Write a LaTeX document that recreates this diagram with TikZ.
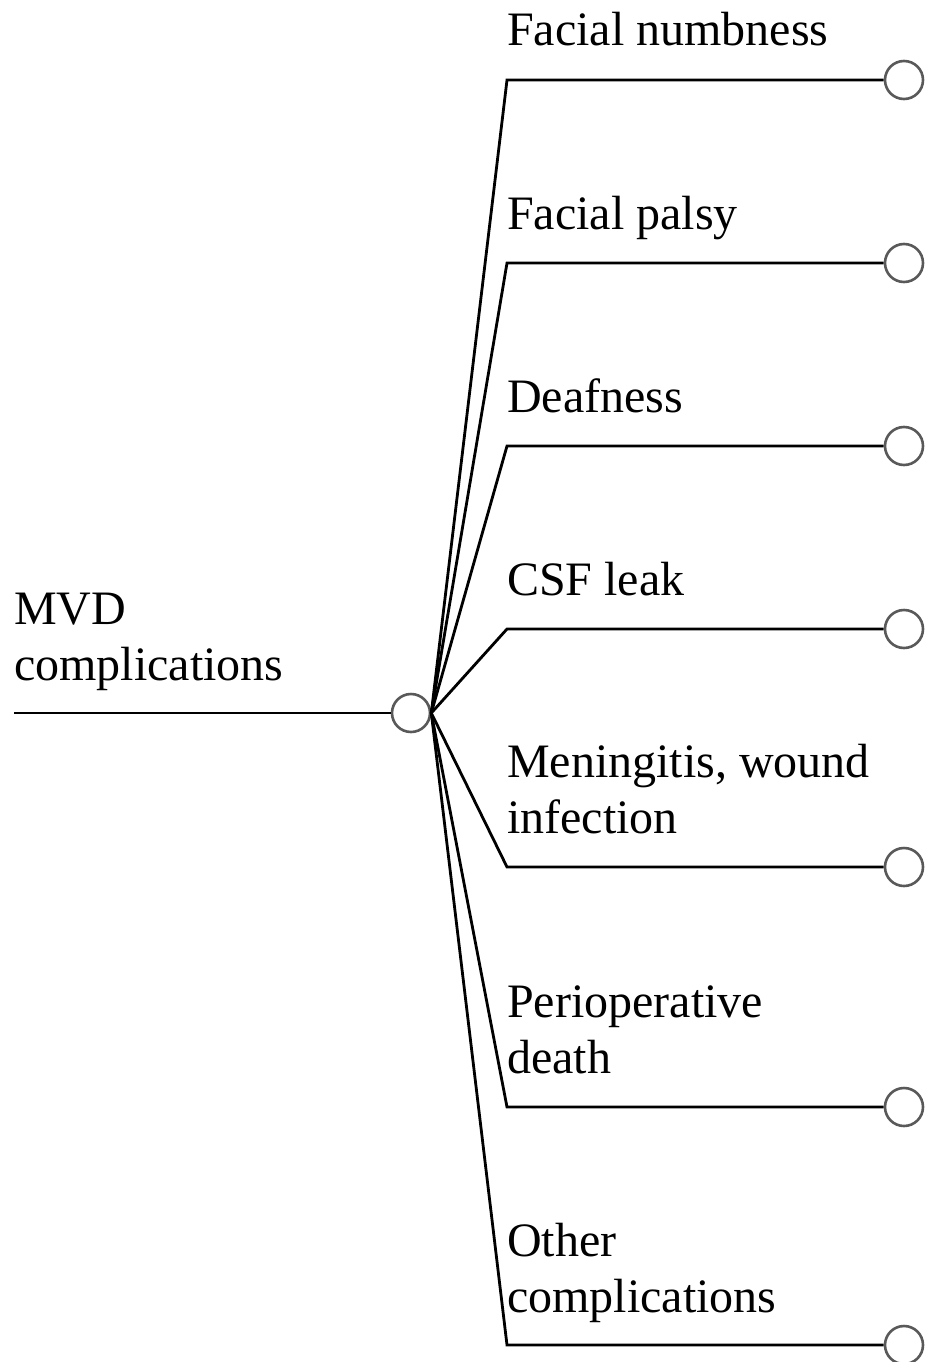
\documentclass[tikz,border=0pt]{standalone}
\usepackage{fontspec}
\setmainfont{Liberation Serif}
\begin{document}
\begin{tikzpicture}[x=1pt,y=-1pt,
  label/.style={anchor=base west,inner sep=0pt,align=left,
    font=\fontsize{48}{56}\selectfont},
  endpt/.style={circle,draw=black!65,line width=2.6pt,fill=white,
    minimum size=38pt,inner sep=0pt},
  branch/.style={line width=2.8pt,line join=miter}]
\useasboundingbox (0,0) rectangle (926,1362);

% root label (base = last line) and stem
\node[label] (root) at (14,680) {MVD\\complications};
\coordinate (start) at (14,713);
\node[endpt] (hub) at (411,713) {};
\draw[branch] (start) -- (hub.west);

% branch corners and end circles
\foreach \i/\y in {1/80,2/263,3/446,4/629,5/867,6/1107,7/1345}{
  \coordinate (k\i) at (507,\y);
  \node[endpt] (e\i) at (904,\y) {};
}
\foreach \i in {1,...,7}{
  \draw[branch] (hub.east) -- (k\i) -- (e\i.west);
}

% branch labels, placed by the baseline of their last line
\node[label] (t1) at (507,46) {Facial numbness};
\node[label] (t2) at (507,229) {Facial palsy};
\node[label] (t3) at (507,412) {Deafness};
\node[label] (t4) at (507,595) {CSF leak};
\node[label] (t5) at (507,833) {Meningitis, wound\\infection};
\node[label] (t6) at (507,1073) {Perioperative\\death};
\node[label] (t7) at (507,1312) {Other\\complications};
\end{tikzpicture}
\end{document}
